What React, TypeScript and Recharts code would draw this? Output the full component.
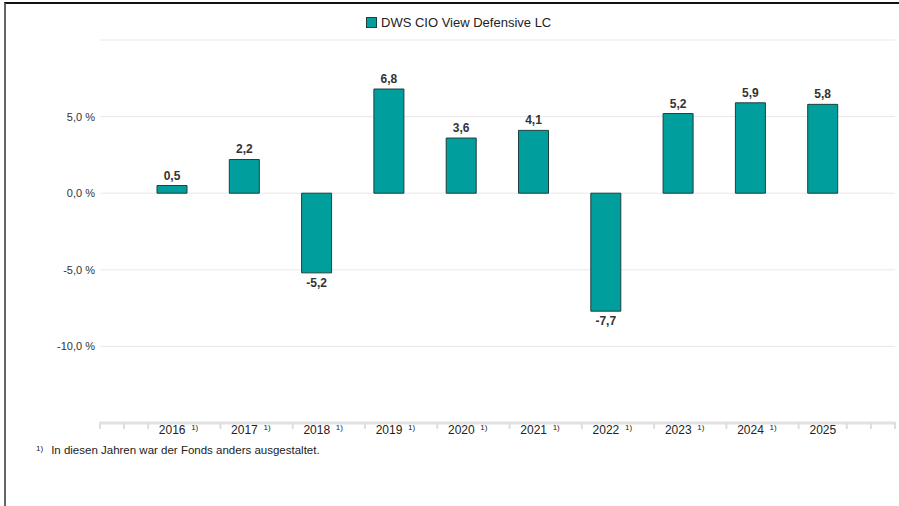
import { BarChart, Bar, XAxis, YAxis, CartesianGrid, LabelList } from "recharts";

const years = ["2016", "2017", "2018", "2019", "2020", "2021", "2022", "2023", "2024", "2025"];
const returns = [0.5, 2.2, -5.2, 6.8, 3.6, 4.1, -7.7, 5.2, 5.9, 5.8];
const footnoted = ["2016", "2017", "2018", "2019", "2020", "2021", "2022", "2023", "2024"];
const yTicks = [-15, -10, -5, 0, 5, 10];

const data = years.map((year, i) => ({ year, value: returns[i] }));

// small grey marks along the x axis, three per year, hidden where a label sits
const STEPS = 33;
const SPAN = years.length - 1;
const minorTicks: number[] = [];
for (let i = 0; i <= STEPS; i++) {
  const k = i - 3;
  const underLabel = k >= 0 && k % 3 === 0 && k / 3 < years.length;
  const underNote = k >= 1 && (k - 1) % 3 === 0 && (k - 1) / 3 < footnoted.length;
  if (!underLabel && !underNote) minorTicks.push((i * SPAN) / STEPS);
}

const FONT = "'Liberation Sans', Arial, sans-serif";
const TEAL = "#009E9C";
const CAT_AXIS_H = 29;

const fmt = (v: number) => v.toFixed(1).replace(".", ",");

const YearTick = (props: any) => {
  const { x, y, payload } = props;
  const note = footnoted.includes(payload.value);
  return (
    <g>
      <text x={x} y={y + 11} textAnchor="middle" fontSize={12} fill="#222" fontFamily={FONT}>
        {payload.value}
      </text>
      {note && (
        <text x={x + 19} y={y + 7} fontSize={8} fill="#222" fontFamily={FONT}>
          1)
        </text>
      )}
    </g>
  );
};

const ValueLabel = (props: any) => {
  const { x, y, width, height, value } = props;
  const cx = x + width / 2;
  const top = Math.min(y, y + height);
  const bottom = Math.max(y, y + height);
  const ty = value < 0 ? bottom + 14 : top - 6;
  return (
    <text x={cx} y={ty} textAnchor="middle" fontSize={12} fontWeight={600} fill="#333" fontFamily={FONT}>
      {fmt(value)}
    </text>
  );
};

// the minor axis is stacked under the year axis, so pull its marks back up
const MinorTick = (props: any) => {
  const { x, y } = props;
  const base = y - CAT_AXIS_H;
  return <line x1={x} x2={x} y1={base - 1} y2={base + 6} stroke="#dedede" strokeWidth={2} />;
};

export default function App() {
  return (
    <div style={{ position: "absolute", left: 0, top: 0, width: 899, height: 506, background: "#fff", fontFamily: FONT }}>
      <div
        style={{
          position: "absolute",
          left: 4,
          top: 2,
          width: 895,
          height: 504,
          borderTop: "2px solid #111",
          borderLeft: "2px solid #666",
          boxSizing: "border-box",
        }}
      />
      <div style={{ position: "absolute", left: 366, top: 15, display: "flex", alignItems: "center", fontSize: 13, color: "#222" }}>
        <span style={{ display: "inline-block", width: 9, height: 9, background: TEAL, border: "1px solid #1F3F3F", marginRight: 4 }} />
        DWS CIO View Defensive LC
      </div>
      <BarChart width={899} height={506} data={data} margin={{ top: 40, right: 4, bottom: 53, left: 0 }}>
        <CartesianGrid vertical={false} stroke="#e8e8e8" />
        <XAxis
          xAxisId="minor"
          type="number"
          domain={[0, SPAN]}
          allowDataOverflow
          ticks={minorTicks}
          interval={0}
          tick={<MinorTick />}
          tickLine={false}
          tickSize={0}
          tickMargin={0}
          axisLine={false}
          height={1}
        />
        <XAxis
          dataKey="year"
          interval={0}
          tickLine={false}
          tickSize={0}
          tickMargin={0}
          axisLine={{ stroke: "#e2e2e2", strokeWidth: 3 }}
          tick={<YearTick />}
          padding={{ left: 36, right: 36 }}
          height={CAT_AXIS_H}
        />
        <YAxis
          domain={[-15, 10]}
          ticks={yTicks}
          width={100}
          tickLine={false}
          tickSize={0}
          tickMargin={5}
          axisLine={false}
          tick={{ fontSize: 11, fill: "#333", fontFamily: FONT }}
          tickFormatter={(v: number) => (v === 10 || v === -15 ? "" : fmt(v) + " %")}
        />
        <Bar dataKey="value" fill={TEAL} stroke="#1F3F3F" strokeWidth={1} barSize={30} isAnimationActive={false}>
          <LabelList dataKey="value" content={<ValueLabel />} />
        </Bar>
      </BarChart>
      <div style={{ position: "absolute", left: 36, top: 444, fontSize: 11.5, color: "#222", whiteSpace: "nowrap" }}>
        <span style={{ fontSize: 8, verticalAlign: "top", marginRight: 8 }}>1)</span>
        In diesen Jahren war der Fonds anders ausgestaltet.
      </div>
    </div>
  );
}
